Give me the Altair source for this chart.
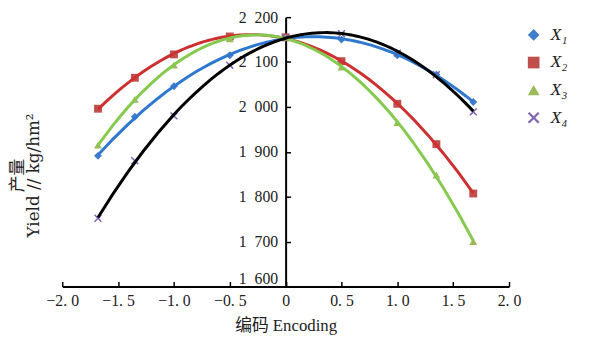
import altair as alt
import pandas as pd

series = ["X₁", "X₂", "X₃", "X₄"]
codes = [-1.68, -1.35, -1.0, -0.5, 0.0, 0.5, 1.0, 1.35, 1.68]
y_x1 = [1891, 1978, 2046, 2115, 2155, 2150, 2115, 2072, 2011]
y_x2 = [1996, 2065, 2117, 2157, 2155, 2102, 2007, 1917, 1807]
y_x3 = [1915, 2017, 2093, 2152, 2155, 2089, 1965, 1848, 1700]
y_x4 = [1752, 1880, 1980, 2093, 2155, 2163, 2120, 2072, 1989]
x_ticks = [-2.0, -1.5, -1.0, -0.5, 0.0, 0.5, 1.0, 1.5, 2.0]
y_ticks = [1600, 1700, 1800, 1900, 2000, 2100, 2200]

marker_colors = ["#3f7ecb", "#c0504d", "#9bbb59", "#7f63b0"]
line_colors = ["#2f78cf", "#cc3030", "#86c94f", "#000000"]
X_PATH = ("M0,-0.26L0.74,-1L1,-0.74L0.26,0L1,0.74L0.74,1L0,0.26"
          "L-0.74,1L-1,0.74L-0.26,0L-1,-0.74L-0.74,-1Z")
shapes = ["diamond", "square", "triangle-up", X_PATH]

rows = []
for s, ys in zip(series, [y_x1, y_x2, y_x3, y_x4]):
    for c, v in zip(codes, ys):
        rows.append({"series": s, "code": c, "yield": v})
df = pd.DataFrame(rows)

W, H = 453, 273
FONT = "Liberation Serif, Noto Sans CJK SC"
TFONT = "DejaVu Serif, Noto Sans CJK SC"

x_enc = alt.X(
    "code:Q",
    scale=alt.Scale(domain=[-2, 2], nice=False, zero=False),
    axis=alt.Axis(
        orient="top", offset=-H, values=x_ticks, labelFlush=False,
        labelExpr="datum.value == 0 ? '0' : replace(format(datum.value, '.1f'), '.', '. ')",
        tickSize=5, labelPadding=-11, labelBaseline="top", labelFontSize=16,
        title="编码 Encoding", titleX=W / 2, titleY=40, titleBaseline="middle",
        titleAlign="center", titleFontWeight="normal", titleFontSize=17,
    ),
)
y_enc = alt.Y(
    "yield:Q",
    scale=alt.Scale(domain=[1600, 2200], nice=False, zero=False),
    axis=alt.Axis(
        orient="right", offset=-W / 2, values=y_ticks, labelFlush=False,
        labelExpr="replace(format(datum.value, ','), ',', '\u2002')",
        tickSize=5, labelPadding=-13, labelAlign="right", labelFontSize=16,
        labelBaseline={"condition": {"test": "datum.value == 1600", "value": "bottom"},
                       "value": "middle"},
        title=["产量", "Yield // kg/hm²"], titleAngle=-90, titleX=-W / 2 - 45, titleY=160,
        titleAlign="center", titleBaseline="middle", titleFontWeight="normal",
        titleFont=TFONT, titleFontSize=17, titleLineHeight=16,
    ),
)

leg = alt.Legend(
    title=None, orient="none", legendX=469, legendY=9, symbolSize=140,
    labelFont=FONT, labelFontSize=18, labelFontStyle="italic", labelColor="#222",
    rowPadding=10, labelOffset=8, padding=0, symbolStrokeWidth=0,
)

points = alt.Chart(df).mark_point(filled=True, opacity=1, size=64).encode(
    x=x_enc, y=y_enc,
    color=alt.Color("series:N", scale=alt.Scale(domain=series, range=marker_colors), legend=leg),
    shape=alt.Shape("series:N", scale=alt.Scale(domain=series, range=shapes), legend=leg),
)

lines = alt.Chart(df).transform_regression(
    "code", "yield", groupby=["series"], method="poly", order=2
).mark_line(strokeWidth=3).encode(
    x="code:Q", y="yield:Q",
    stroke=alt.Stroke("series:N", scale=alt.Scale(domain=series, range=line_colors), legend=None),
    detail="series:N",
)

chart = alt.layer(points, lines).resolve_scale(stroke="independent").properties(
    width=W, height=H,
    autosize=alt.AutoSizeParams(type="none"),
    padding={"left": 55, "top": 7, "right": 74, "bottom": 50},
    background="#ffffff",
).configure_view(stroke=None).configure_axis(
    grid=False, domainColor="#000", domainWidth=2, tickColor="#000", tickWidth=1.5,
    labelFont=FONT, labelColor="#222",
    titleFont=FONT, titleColor="#222",
)

chart.save("out.html", embed_options={"renderer": "svg", "actions": False})
